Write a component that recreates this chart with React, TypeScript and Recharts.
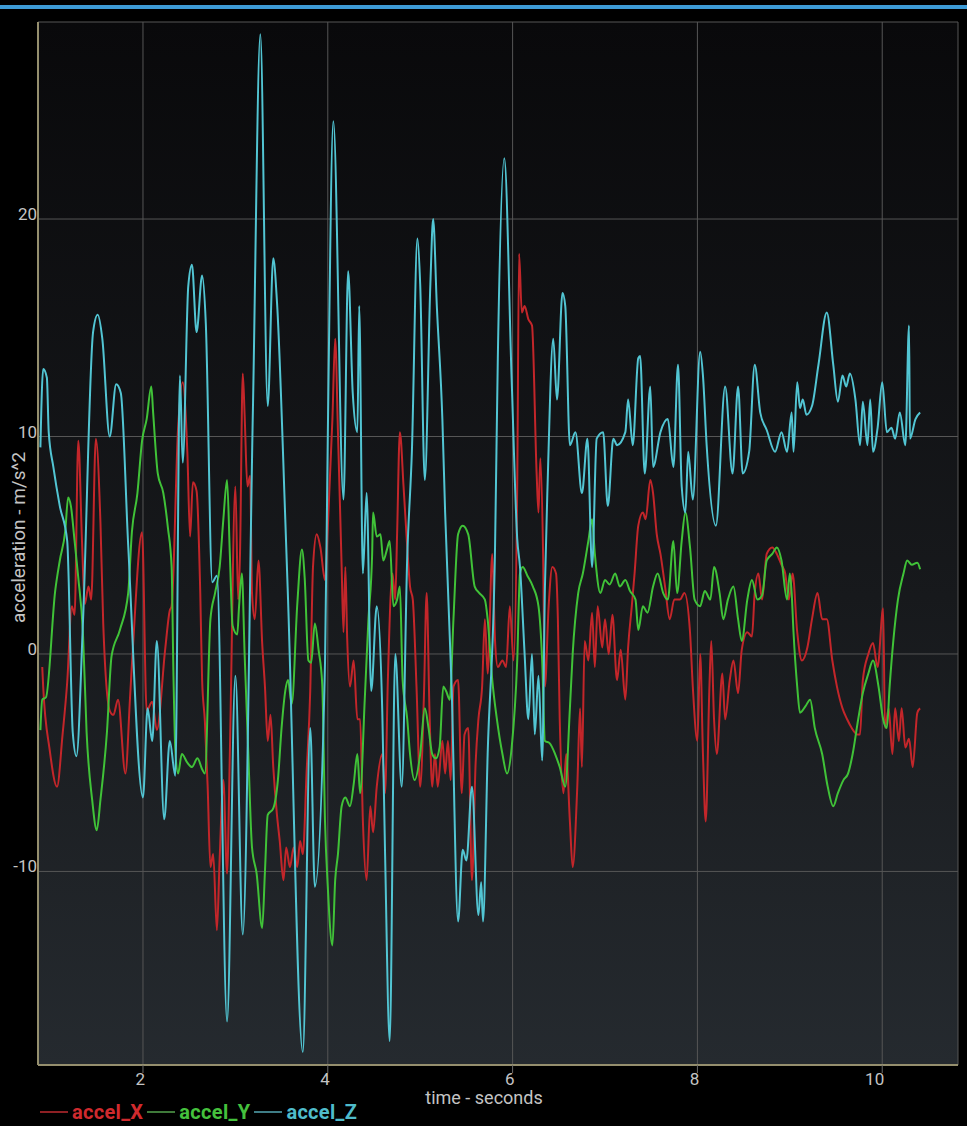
import { LineChart, Line, XAxis, YAxis, CartesianGrid, Label } from "recharts";

// axis ranges (seconds, m/s^2)
const T_MIN = 0.864;
const T_MAX = 10.82;
const A_MIN = -18.9;
const A_MAX = 29.06;

const timeTicks = [2, 4, 6, 8, 10];
const accelTicks = [-10, 0, 10, 20];

// [time s, acceleration m/s^2]
const accelX: [number, number][] = [
  [0.91, -0.6], [0.92, -1.5], [0.99, -4.4], [1.07, -6.1], [1.13, -3.7], [1.18, -1.3], [1.23, 2.2], [1.26, 1.8],
  [1.3, 9.8], [1.34, 5.2], [1.37, 2.3], [1.41, 3.1], [1.44, 2.5], [1.49, 9.9], [1.54, 6], [1.57, 1.4],
  [1.64, -2.6], [1.68, -2.8], [1.73, -2.1], [1.81, -5.5], [1.86, -2], [1.89, 0.2], [1.99, 5.6], [2.04, -2.6],
  [2.1, -2.2], [2.15, -3.5], [2.24, 0.2], [2.29, 2], [2.31, 2.2], [2.38, 10.4], [2.43, 12.5], [2.48, 9.3],
  [2.51, 5.4], [2.54, 7.9], [2.58, 7.5], [2.62, 2.8], [2.64, -1.2], [2.67, -3.1], [2.7, -6.1], [2.73, -9.8],
  [2.76, -9.2], [2.8, -12.7], [2.83, -9.4], [2.87, -5.8], [2.91, -10.1], [2.94, -4.6], [3.0, 7.7], [3.03, 2.5],
  [3.05, 4.6], [3.08, 12.9], [3.1, 11], [3.13, 7.7], [3.16, 8.2], [3.18, 2.8], [3.21, 1.6], [3.25, 4.3],
  [3.29, 0.5], [3.32, -1.5], [3.35, -4], [3.38, -2.8], [3.41, -5.2], [3.45, -7.4], [3.48, -8.6], [3.52, -10.4],
  [3.55, -8.9], [3.59, -9.8], [3.63, -8.9], [3.67, -9.8], [3.7, -8.6], [3.73, -9.2], [3.77, -5.5], [3.81, -1.7],
  [3.84, 4], [3.88, 5.5], [3.92, 4.9], [3.97, 3.4], [4.0, 5.8], [4.05, 10.8], [4.08, 14.5], [4.11, 10.2],
  [4.15, 4], [4.17, 1], [4.19, 4], [4.21, 0.7], [4.24, -1.5], [4.28, -0.3], [4.32, -3], [4.35, -3],
  [4.38, -7.7], [4.42, -10.4], [4.46, -7], [4.49, -8.2], [4.53, -6.1], [4.59, -4.6], [4.62, -6.4], [4.65, -1.2],
  [4.7, 3.7], [4.73, 2.5], [4.75, 5.5], [4.78, 10.2], [4.82, 7.7], [4.86, 4.9], [4.89, 3.1], [4.92, 2.5],
  [4.96, -1.5], [5.0, -6.1], [5.04, -2], [5.07, 2.8], [5.1, -2.5], [5.13, -6.1], [5.16, -4.6], [5.19, -6.1],
  [5.24, -4], [5.27, -5.5], [5.3, -4], [5.33, -5.8], [5.36, -1.5], [5.41, -1.2], [5.45, -6.4], [5.48, -3.7],
  [5.52, -3.4], [5.56, -10.4], [5.6, -5], [5.63, -3], [5.67, -1.5], [5.7, 1.6], [5.73, -0.9], [5.78, 4.6],
  [5.81, 0.6], [5.84, -0.6], [5.89, -0.3], [5.93, -0.6], [5.97, 2.2], [6.01, -0.3], [6.05, 7.7], [6.07, 18.4],
  [6.1, 15.7], [6.13, 16], [6.17, 15.4], [6.21, 15.1], [6.26, 8.3], [6.28, 6.5], [6.3, 9], [6.33, 4.6],
  [6.35, -1.5], [6.39, 2.2], [6.43, 4], [6.47, 3.7], [6.49, 1.6], [6.51, -3], [6.55, -6.4], [6.58, -4.6],
  [6.62, -7.7], [6.65, -9.8], [6.7, -6.1], [6.73, -2.5], [6.75, -5.2], [6.78, 0.6], [6.82, -0.3], [6.86, 1.9],
  [6.89, -0.6], [6.92, 2.2], [6.97, 0.3], [7.0, 1.6], [7.04, 0], [7.08, 1.8], [7.13, -1.2], [7.17, 0.2],
  [7.22, -2.1], [7.25, 0.3], [7.29, 2.2], [7.32, 3.7], [7.36, 5.9], [7.41, 6.5], [7.44, 6.2], [7.49, 8],
  [7.52, 7.4], [7.56, 5.5], [7.6, 4.6], [7.65, 3.1], [7.7, 1.6], [7.75, 2.5], [7.81, 2.5], [7.86, 2.8],
  [7.92, 1], [7.95, -1.5], [8.0, -4], [8.03, 0], [8.06, -4.6], [8.09, -7.7], [8.13, -1.5], [8.15, 0.6],
  [8.18, -3], [8.21, -4.6], [8.27, -0.9], [8.3, -3], [8.35, -1.2], [8.39, -0.3], [8.44, -1.8], [8.48, 0.2],
  [8.54, 1], [8.59, 0.8], [8.62, 2.8], [8.66, 3.7], [8.7, 2.5], [8.75, 4.6], [8.81, 4.9], [8.86, 4.6],
  [8.91, 4.1], [8.95, 3.7], [8.99, 2.5], [9.03, 3.7], [9.08, 1], [9.13, -0.3], [9.19, 0.3], [9.24, 1.6],
  [9.3, 2.8], [9.35, 1.6], [9.4, 1.6], [9.46, -0.3], [9.51, -1.5], [9.57, -2.5], [9.62, -3], [9.67, -3.4],
  [9.73, -3.7], [9.76, -3.7], [9.79, -1.2], [9.85, 0], [9.9, 0.5], [9.95, -0.6], [10.01, 2.1], [10.03, -3.4],
  [10.07, -2.5], [10.11, -4.6], [10.14, -2.5], [10.18, -4], [10.21, -2.5], [10.25, -4.3], [10.29, -3.9], [10.33, -5.2],
  [10.38, -2.7], [10.41, -2.5],
];

const accelY: [number, number][] = [
  [0.89, -3.5], [0.91, -2.1], [0.95, -2], [1.05, 2.9], [1.1, 4.3], [1.16, 5.7], [1.19, 7.2], [1.22, 6.8],
  [1.26, 5.2], [1.3, 3.5], [1.35, 1], [1.39, -3.6], [1.45, -6.7], [1.5, -8.1], [1.54, -6.7], [1.61, -3.6],
  [1.66, -0.1], [1.75, 1.1], [1.84, 2.8], [1.88, 5.6], [1.94, 7.4], [1.99, 9.8], [2.04, 10.8], [2.09, 12.3],
  [2.11, 11.1], [2.16, 8.3], [2.22, 7.4], [2.27, 5.8], [2.31, 4], [2.33, -1], [2.35, -4.4], [2.38, -5.5],
  [2.42, -4.6], [2.48, -5], [2.53, -5.2], [2.59, -4.8], [2.64, -5.3], [2.67, -5.5], [2.73, 1.6], [2.78, 2.8],
  [2.83, 4], [2.87, 6.2], [2.91, 8], [2.94, 4.6], [2.97, 1.3], [3.02, 0.9], [3.04, 2.2], [3.07, 3.7],
  [3.1, 0], [3.14, -4.6], [3.18, -8.9], [3.23, -10.1], [3.29, -12.6], [3.32, -10], [3.35, -7.4], [3.41, -7.1],
  [3.46, -5.8], [3.5, -3.4], [3.54, -1.7], [3.57, -1.2], [3.61, -2.3], [3.67, 2.3], [3.72, 4.8], [3.75, 3.5],
  [3.79, -0.3], [3.82, -0.4], [3.86, 1.4], [3.9, 0.2], [3.94, -1.4], [3.97, -7.7], [4.0, -10.7], [4.05, -13.4],
  [4.08, -10.4], [4.11, -9.2], [4.15, -7], [4.19, -6.6], [4.24, -7], [4.28, -6], [4.32, -4.6], [4.35, -6.4],
  [4.4, -2.1], [4.44, 1.6], [4.48, 4.6], [4.49, 6.5], [4.53, 5.4], [4.57, 5.5], [4.6, 4.3], [4.64, 4.8],
  [4.67, 5.2], [4.71, 2.2], [4.75, 2.5], [4.78, 3.1], [4.81, -1.2], [4.86, -3], [4.89, -4.6], [4.94, -5.8],
  [5.0, -4.6], [5.05, -2.5], [5.09, -3.4], [5.13, -4.6], [5.17, -4.8], [5.21, -4.3], [5.25, -1.5], [5.28, -1.7],
  [5.32, -2.1], [5.36, 1.6], [5.41, 5.5], [5.46, 5.9], [5.52, 5.5], [5.59, 3.1], [5.64, 2.8], [5.7, 2.5],
  [5.73, 1.6], [5.78, -1.2], [5.83, -3], [5.89, -4.6], [5.94, -5.5], [5.99, -4.3], [6.05, -0.3], [6.08, 3.7],
  [6.11, 4], [6.16, 3.6], [6.22, 3.1], [6.28, 2.2], [6.32, -0.3], [6.35, -4], [6.4, -4.1], [6.46, -4.6],
  [6.51, -5.2], [6.57, -6.1], [6.62, -2.5], [6.65, 0], [6.71, 2.8], [6.76, 3.7], [6.82, 5.2], [6.86, 6.2],
  [6.89, 4.6], [6.95, 2.8], [7.0, 3.4], [7.05, 3.2], [7.11, 3.7], [7.16, 3.1], [7.22, 3.4], [7.27, 2.9],
  [7.33, 2.5], [7.36, 1.1], [7.41, 2.2], [7.46, 1.9], [7.52, 3.1], [7.57, 3.7], [7.63, 2.8], [7.68, 2.5],
  [7.74, 5.2], [7.78, 2.8], [7.83, 5.2], [7.87, 6.5], [7.92, 4.9], [7.97, 2.5], [8.03, 2.2], [8.08, 2.9],
  [8.14, 2.5], [8.18, 4], [8.24, 2.8], [8.28, 1.6], [8.33, 2.5], [8.39, 3.1], [8.44, 1.6], [8.48, 0.6],
  [8.54, 2.5], [8.59, 3.4], [8.65, 2.5], [8.7, 2.7], [8.75, 4.3], [8.81, 4.6], [8.86, 4.9], [8.91, 4.3],
  [8.97, 2.5], [9.0, 3.7], [9.02, 2.8], [9.04, 1], [9.08, -1.5], [9.11, -2.7], [9.17, -2.4], [9.22, -2.1],
  [9.27, -3.4], [9.35, -4.6], [9.41, -6.1], [9.47, -7], [9.52, -6.4], [9.58, -5.8], [9.63, -5.5], [9.68, -4.6],
  [9.74, -3], [9.79, -1.8], [9.85, -0.9], [9.9, -0.3], [9.96, -1.5], [10.01, -3], [10.05, -3.4], [10.08, -1.5],
  [10.12, 0.6], [10.17, 2.5], [10.23, 3.7], [10.27, 4.3], [10.32, 4.1], [10.38, 4.2], [10.41, 3.9],
];

const accelZ: [number, number][] = [
  [0.89, 9.5], [0.92, 13.1], [0.96, 12.7], [0.98, 10.2], [1.03, 8.6], [1.1, 6.8], [1.18, 5.2], [1.24, -3.6],
  [1.28, -4.7], [1.35, 1.4], [1.46, 14.8], [1.51, 15.6], [1.56, 14.5], [1.64, 10], [1.71, 12.4], [1.76, 12],
  [1.84, 5], [2.0, -6.6], [2.05, -2.5], [2.1, -4], [2.15, 0.6], [2.23, -7.6], [2.29, -4], [2.35, -5.6],
  [2.4, 12.8], [2.43, 8.8], [2.49, 16.9], [2.53, 17.9], [2.58, 14.8], [2.64, 17.4], [2.68, 15.2], [2.75, 3.3],
  [2.8, 3.6], [2.91, -16.9], [3.0, -1], [3.08, -12.9], [3.19, 11.3], [3.27, 28.5], [3.35, 11.4], [3.41, 18.2],
  [3.45, 16.2], [3.54, 6.2], [3.57, 2.5], [3.73, -18.3], [3.81, -3.4], [3.86, -10.7], [3.97, -0.4], [4.0, 10],
  [4.06, 24.5], [4.17, 7.1], [4.22, 17.6], [4.27, 12], [4.32, 10.2], [4.34, 16], [4.38, 3.7], [4.42, 7.4],
  [4.47, -1.7], [4.53, 2.2], [4.59, -2.7], [4.62, -9.2], [4.67, -17.8], [4.73, 0], [4.8, -6.1], [4.86, 4.5],
  [4.91, 9.3], [4.97, 19.1], [5.0, 17], [5.05, 8], [5.11, 17], [5.14, 20], [5.18, 16], [5.24, 10.8],
  [5.27, 6.5], [5.34, -1.5], [5.41, -12.3], [5.46, -9], [5.5, -9.5], [5.56, -6.1], [5.63, -12], [5.66, -10.5],
  [5.68, -12.3], [5.73, -4.6], [5.81, 4.9], [5.84, 13.6], [5.91, 22.8], [5.99, 12.6], [6.05, 5.3], [6.08, 4],
  [6.13, 0], [6.17, -3], [6.21, 0], [6.24, -3.7], [6.28, -1], [6.32, -4.9], [6.35, 3.1], [6.38, 8],
  [6.44, 14.5], [6.48, 11.7], [6.54, 16.6], [6.57, 16], [6.62, 9.6], [6.68, 10.2], [6.75, 7.4], [6.81, 9.9],
  [6.86, 4], [6.91, 9.9], [6.98, 10.2], [7.03, 6.8], [7.09, 9.9], [7.13, 9.6], [7.22, 10.2], [7.25, 11.7],
  [7.3, 9.6], [7.36, 13.6], [7.38, 13.7], [7.43, 8.3], [7.49, 12.3], [7.52, 8.6], [7.6, 10.2], [7.68, 10.8],
  [7.74, 8.6], [7.79, 13.3], [7.83, 7.7], [7.87, 6.5], [7.9, 9.3], [7.95, 7.1], [8.03, 13.9], [8.06, 12.8],
  [8.1, 9.6], [8.2, 5.9], [8.3, 12.3], [8.38, 8.3], [8.44, 12.3], [8.49, 8.3], [8.56, 9.3], [8.62, 13.3],
  [8.68, 11.1], [8.75, 10.3], [8.84, 9.3], [8.91, 10.2], [8.97, 9.3], [9.02, 11.1], [9.04, 9.3], [9.08, 12.5],
  [9.11, 11.3], [9.14, 11.7], [9.18, 11], [9.24, 11.4], [9.31, 13.3], [9.4, 15.7], [9.47, 13.3], [9.52, 11.6],
  [9.57, 12.8], [9.61, 12.3], [9.65, 12.9], [9.71, 11.7], [9.76, 9.6], [9.79, 11.6], [9.84, 9.6], [9.87, 11.7],
  [9.9, 9.3], [9.95, 10.4], [10.0, 12.5], [10.05, 10.2], [10.1, 10.4], [10.14, 9.9], [10.19, 11.1], [10.25, 9.6],
  [10.29, 15.1], [10.3, 9.9], [10.36, 10.8], [10.41, 11.1],
];

const SERIES = [
  { name: "accel_X", points: accelX, color: "#c3262a", label: "#d02a2e", swatch: "#8e2024" },
  { name: "accel_Y", points: accelY, color: "#40c238", label: "#45c13d", swatch: "#3f7a3a" },
  { name: "accel_Z", points: accelZ, color: "#52c5d3", label: "#4fbccb", swatch: "#3f7d86" },
];

const toRows = (pts: [number, number][]) => pts.map(([t, v]) => ({ t, v }));

const FONT = "Roboto, 'DejaVu Sans', sans-serif";
const TICK_GRAY = "#c4c4c4";
const AXIS_COLOR = "#958f6e";
const GRID_COLOR = "#565656";

function TimeTick({ x, y, payload }: any) {
  return (
    <text x={x + 2} y={y + 10} textAnchor="end" fill={TICK_GRAY} fontSize={17} fontFamily={FONT}>
      {payload.value}
    </text>
  );
}

function AccelTick({ x, y, payload }: any) {
  return (
    <text x={x} y={y + 1} textAnchor="end" fill={TICK_GRAY} fontSize={17} fontFamily={FONT}>
      {payload.value}
    </text>
  );
}

function TimeTitle({ viewBox }: any) {
  const cx = viewBox.x + viewBox.width / 2 - 14;
  return (
    <text x={cx} y={viewBox.y + 39} textAnchor="middle" fill={TICK_GRAY} fontSize={18} fontFamily={FONT}>
      time - seconds
    </text>
  );
}

function AccelTitle({ viewBox }: any) {
  const cx = viewBox.x + 18;
  const cy = viewBox.y + viewBox.height / 2 - 6;
  return (
    <text
      x={cx}
      y={cy}
      transform={`rotate(-90 ${cx} ${cy})`}
      textAnchor="middle"
      dominantBaseline="central"
      fill={TICK_GRAY}
      fontSize={19}
      fontFamily={FONT}
    >
      acceleration - m/s^2
    </text>
  );
}

export default function App() {
  return (
    <div style={{ position: "relative", width: 967, height: 1126, background: "#000", overflow: "hidden" }}>
      <style>{`body { margin: 0; background: #000; }`}</style>
      {/* status-bar rule across the top */}
      <div style={{ position: "absolute", left: 0, top: 5, width: 967, height: 4, background: "#3d9bd6" }} />

      <LineChart width={967} height={1126} margin={{ top: 22, right: 9, bottom: 0, left: 0 }}>
        <defs>
          <linearGradient id="plotBg" x1="0" y1="0" x2="0" y2="1">
            <stop offset="0%" stopColor="#09090b" />
            <stop offset="55%" stopColor="#17191c" />
            <stop offset="100%" stopColor="#252a2f" />
          </linearGradient>
        </defs>
        <CartesianGrid stroke={GRID_COLOR} fill="url(#plotBg)" fillOpacity={1} />
        <XAxis
          type="number"
          dataKey="t"
          domain={[T_MIN, T_MAX]}
          ticks={timeTicks}
          interval={0}
          height={61}
          tick={<TimeTick />}
          tickSize={8}
          tickLine={{ stroke: "#6a6a6a" }}
          axisLine={{ stroke: AXIS_COLOR, strokeWidth: 2 }}
        >
          <Label content={<TimeTitle />} />
        </XAxis>
        <YAxis
          type="number"
          domain={[A_MIN, A_MAX]}
          ticks={accelTicks}
          interval={0}
          width={38}
          tick={<AccelTick />}
          tickSize={0}
          tickMargin={1}
          tickLine={false}
          axisLine={{ stroke: AXIS_COLOR, strokeWidth: 2 }}
        >
          <Label content={<AccelTitle />} />
        </YAxis>
        {SERIES.map(s => (
          <Line
            key={s.name}
            name={s.name}
            data={toRows(s.points)}
            dataKey="v"
            type="monotone"
            stroke={s.color}
            strokeWidth={2}
            dot={false}
            activeDot={false}
            isAnimationActive={false}
          />
        ))}
      </LineChart>

      {/* legend row under the time axis */}
      <div
        style={{
          position: "absolute", left: 40, top: 1100, display: "flex", alignItems: "center",
          fontFamily: FONT, fontSize: 20, fontWeight: 700, letterSpacing: 0.3,
        }}
      >
        {SERIES.map(s => (
          <div key={s.name} style={{ display: "flex", alignItems: "center", marginRight: 4 }}>
            <span style={{ width: 28, height: 2, background: s.swatch, marginRight: 4 }} />
            <span style={{ color: s.label }}>{s.name}</span>
          </div>
        ))}
      </div>
    </div>
  );
}
